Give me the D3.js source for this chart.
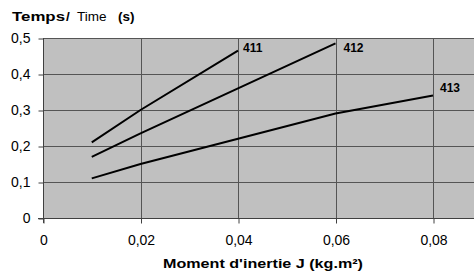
<!DOCTYPE html>
<html>
<head>
<meta charset="utf-8">
<script src="https://cdn.jsdelivr.net/npm/d3@7"></script>
<style>
  body { margin: 0; background: #fff; }
  svg { display: block; font-family: "Liberation Sans", Arial, sans-serif; }
</style>
</head>
<body>
<svg id="chart" width="474" height="274"></svg>
<script>
// data
const seriesNames = ['411', '412', '413'];
const inertia411 = [0.01, 0.02, 0.04];
const time411 = [0.21, 0.30, 0.465];
const inertia412 = [0.01, 0.02, 0.04, 0.06];
const time412 = [0.17, 0.235, 0.36, 0.485];
const inertia413 = [0.01, 0.02, 0.04, 0.06, 0.08];
const time413 = [0.11, 0.15, 0.22, 0.29, 0.34];
const xTicks = [0, 0.02, 0.04, 0.06, 0.08];
const yTicks = [0, 0.1, 0.2, 0.3, 0.4, 0.5];

const series = [
  {name: seriesNames[0], xs: inertia411, ys: time411, dx: 5, dy: 1.5},
  {name: seriesNames[1], xs: inertia412, ys: time412, dx: 8, dy: 8.5},
  {name: seriesNames[2], xs: inertia413, ys: time413, dx: 7, dy: -3.5}
];

const svg = d3.select('#chart');
const plot = {left: 43, top: 38, bottom: 218, right: 474};

let x = d3.scaleLinear().domain([0, 0.08]).range([plot.left, plot.left + 390]);
let y = d3.scaleLinear().domain([0, 0.5]).range([plot.bottom, plot.top]);
let fmt = d => String(+d.toFixed(2)).replace('.', ',');

// plot area
svg.append('rect')
  .attr('x', plot.left).attr('y', plot.top)
  .attr('width', plot.right - plot.left).attr('height', plot.bottom - plot.top)
  .attr('fill', '#c0c0c0');

// grid
let grid = svg.append('g').attr('stroke', '#555').attr('stroke-width', 1);
yTicks.forEach(t => {
  grid.append('line')
    .attr('x1', plot.left).attr('x2', plot.right)
    .attr('y1', Math.round(y(t)) + 0.5).attr('y2', Math.round(y(t)) + 0.5);
});
xTicks.slice(1).forEach(t => {
  grid.append('line')
    .attr('x1', Math.round(x(t)) + 0.5).attr('x2', Math.round(x(t)) + 0.5)
    .attr('y1', plot.top).attr('y2', plot.bottom);
});

// axes
let yAxis = d3.axisLeft(y).tickValues(yTicks).tickSize(5).tickPadding(8).tickFormat(fmt);
let gy = svg.append('g').attr('transform', 'translate(' + (plot.left + 0.5) + ',0.5)').call(yAxis);
let xAxis = d3.axisBottom(x).tickValues(xTicks).tickSize(5).tickPadding(12).tickFormat(fmt);
let gx = svg.append('g').attr('transform', 'translate(0.5,' + (plot.bottom + 0.5) + ')').call(xAxis);

[gx, gy].forEach(g => {
  g.select('.domain').remove();
  g.selectAll('.tick line').attr('stroke', '#404040');
  g.selectAll('.tick text')
    .attr('fill', '#000')
    .attr('font-size', 14)
    .attr('font-family', '"Liberation Sans", Arial, sans-serif');
});
svg.append('line')
  .attr('x1', plot.left + 0.5).attr('x2', plot.left + 0.5)
  .attr('y1', plot.top).attr('y2', plot.bottom + 5)
  .attr('stroke', '#404040');
svg.append('line')
  .attr('x1', plot.left - 5).attr('x2', plot.right)
  .attr('y1', plot.bottom + 0.5).attr('y2', plot.bottom + 0.5)
  .attr('stroke', '#404040');

// lines
let line = d3.line().x(d => x(d[0])).y(d => y(d[1]));
series.forEach(s => {
  let pts = s.xs.map((v, i) => [v, s.ys[i]]);
  svg.append('path')
    .attr('d', line(pts))
    .attr('fill', 'none')
    .attr('stroke', '#000')
    .attr('stroke-width', 2);
  let last = pts[pts.length - 1];
  svg.append('text')
    .attr('x', x(last[0]) + s.dx)
    .attr('y', y(last[1]) + s.dy)
    .attr('font-size', 12)
    .attr('font-weight', 'bold')
    .text(s.name);
});

// titles
let title = svg.append('g').attr('font-size', 13.5);
title.append('text').attr('x', 12).attr('y', 21)
  .attr('font-weight', 'bold').attr('textLength', 53).attr('lengthAdjust', 'spacingAndGlyphs')
  .text('Temps');
title.append('text').attr('x', 66).attr('y', 21).attr('font-weight', 'bold').text('/');
title.append('text').attr('x', 77).attr('y', 21).text('Time');
title.append('text').attr('x', 118).attr('y', 21).attr('font-weight', 'bold').text('(s)');

svg.append('text')
  .attr('x', 163).attr('y', 268)
  .attr('font-size', 13)
  .attr('font-weight', 'bold')
  .attr('textLength', 200).attr('lengthAdjust', 'spacingAndGlyphs')
  .text("Moment d'inertie J (kg.m²)");
</script>
</body>
</html>
